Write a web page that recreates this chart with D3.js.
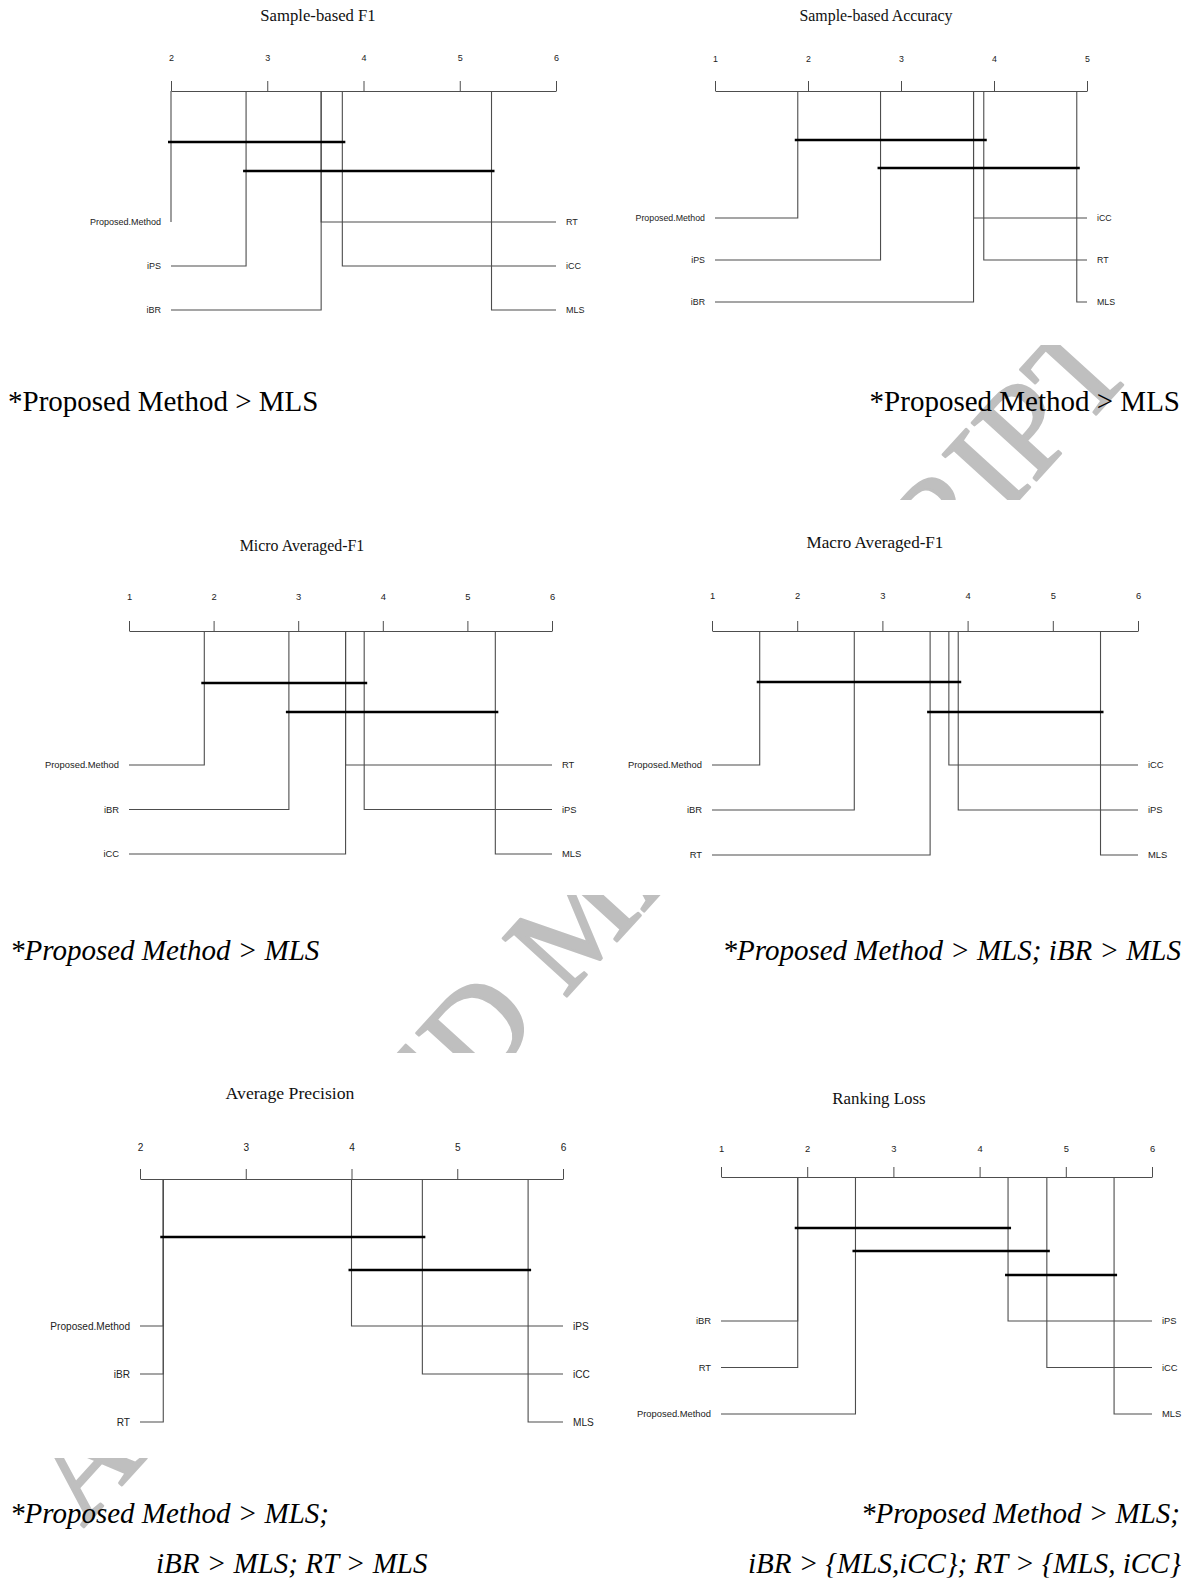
<!DOCTYPE html>
<html>
<head>
<meta charset="utf-8">
<script src="https://cdn.jsdelivr.net/npm/d3@7"></script>
<style>
  body { margin: 0; background: #fff; }
</style>
</head>
<body>
<script>
// ---- data ----
const titles = ["Sample-based F1", "Sample-based Accuracy", "Micro Averaged-F1",
                "Macro Averaged-F1", "Average Precision", "Ranking Loss"];

// methods in display order: first three on the left, last three on the right
const methods = [
  ["Proposed.Method", "iPS", "iBR", "RT", "iCC", "MLS"],
  ["Proposed.Method", "iPS", "iBR", "iCC", "RT", "MLS"],
  ["Proposed.Method", "iBR", "iCC", "RT", "iPS", "MLS"],
  ["Proposed.Method", "iBR", "RT", "iCC", "iPS", "MLS"],
  ["Proposed.Method", "iBR", "RT", "iPS", "iCC", "MLS"],
  ["iBR", "RT", "Proposed.Method", "iPS", "iCC", "MLS"]
];

// average ranks
const ranks = [
  [2.00, 2.78, 3.56, 3.56, 3.78, 5.33],
  [1.89, 2.78, 3.78, 3.78, 3.89, 4.89],
  [1.89, 2.89, 3.56, 3.56, 3.78, 5.33],
  [1.56, 2.67, 3.56, 3.78, 3.89, 5.56],
  [2.22, 2.22, 2.22, 4.00, 4.67, 5.67],
  [1.89, 1.89, 2.56, 4.33, 4.78, 5.56]
];

const rankDomains = [[2, 6], [1, 5], [1, 6], [1, 6], [2, 6], [1, 6]];

// groups not significantly different (thick bars)
const cliques = [
  [[2.00, 3.78], [2.78, 5.33]],
  [[1.89, 3.89], [2.78, 4.89]],
  [[1.89, 3.78], [2.89, 5.33]],
  [[1.56, 3.89], [3.56, 5.56]],
  [[2.22, 4.67], [4.00, 5.67]],
  [[1.89, 4.33], [2.56, 4.78], [4.33, 5.56]]
];

const notes = [
  ["*Proposed Method > MLS"],
  ["*Proposed Method > MLS"],
  ["*Proposed Method > MLS"],
  ["*Proposed Method > MLS; iBR > MLS"],
  ["*Proposed Method > MLS;", "iBR > MLS; RT > MLS"],
  ["*Proposed Method > MLS;", "iBR > {MLS,iCC}; RT > {MLS, iCC}"]
];

const watermark = "ACCEPTED MANUSCRIPT";

// ---- layout ----
const W = 1188, H = 1580;

const panels = [
  {x0: 171, x1: 556, axisY: 91, tickY: 58, titleX: 318, titleY: 15, titleSize: 16.7, fs: 9.0, bars: [142, 171], rows: [222, 310]},
  {x0: 715, x1: 1087, axisY: 91, tickY: 59, titleX: 876, titleY: 15, titleSize: 15.9, fs: 8.8, bars: [140, 168], rows: [218, 302]},
  {x0: 129, x1: 552, axisY: 631, tickY: 597, titleX: 302, titleY: 545, titleSize: 15.9, fs: 9.4, bars: [683, 712], rows: [765, 854]},
  {x0: 712, x1: 1138, axisY: 631, tickY: 596, titleX: 875, titleY: 542, titleSize: 17.1, fs: 9.4, bars: [682, 712], rows: [765, 855]},
  {x0: 140, x1: 563, axisY: 1179, tickY: 1147, titleX: 290, titleY: 1093, titleSize: 17.7, fs: 10.1, bars: [1237, 1270], rows: [1326, 1422]},
  {x0: 721, x1: 1152, axisY: 1177, tickY: 1149, titleX: 879, titleY: 1098, titleSize: 16.9, fs: 9.4, bars: [1228, 1251, 1275], rows: [1321, 1414]}
];

const noteLayout = [
  {x: [8], y: [411], anchor: "start", italic: false},
  {x: [1180], y: [411], anchor: "end", italic: false},
  {x: [10], y: [960], anchor: "start", italic: true},
  {x: [1181], y: [960], anchor: "end", italic: true},
  {x: [10, 156], y: [1523, 1573], anchor: "start", italic: true},
  {x: [1180, 1181], y: [1523, 1573], anchor: "end", italic: true}
];

// white areas of the pasted figures (they hide the watermark)
const figureRows = [[0, 345], [500, 895], [1053, 1458]];

const lineColor = "#4d4d4d";
const sans = "'Liberation Sans', Arial, sans-serif";
const serif = "'Liberation Serif', 'Times New Roman', serif";

const svg = d3.select("body")
  .append("svg")
  .attr("width", W)
  .attr("height", H)
  .attr("viewBox", [0, 0, W, H]);

// watermark behind everything
svg.append("text")
  .attr("transform", "translate(83,1528) rotate(-47.7)")
  .attr("font-family", serif)
  .attr("font-size", 132)
  .attr("fill", "#bfbfbf")
  .attr("stroke", "#bfbfbf")
  .attr("stroke-width", 2.5)
  .attr("stroke-linejoin", "round")
  .text(watermark);

svg.selectAll("rect.fig")
  .data(figureRows)
  .enter()
  .append("rect")
  .attr("class", "fig")
  .attr("x", 0)
  .attr("y", d => d[0])
  .attr("width", W)
  .attr("height", d => d[1] - d[0])
  .attr("fill", "#fff");

function drawPanel(i) {
  const p = panels[i];
  const g = svg.append("g");
  const x = d3.scaleLinear().domain(rankDomains[i]).range([p.x0, p.x1]);
  const y = d3.scaleLinear().domain([0, 2]).range(p.rows);

  // title
  g.append("text")
    .attr("x", p.titleX)
    .attr("y", p.titleY)
    .attr("dy", "0.35em")
    .attr("text-anchor", "middle")
    .attr("font-family", serif)
    .attr("font-size", p.titleSize)
    .attr("fill", "#111")
    .text(titles[i]);

  // rank axis on top
  const pad = p.axisY - 10 - (p.tickY + 0.35 * p.fs);
  const axis = d3.axisTop(x)
    .tickValues(d3.range(rankDomains[i][0], rankDomains[i][1] + 1))
    .tickFormat(d3.format("d"))
    .tickSize(10)
    .tickSizeOuter(0)
    .tickPadding(pad);
  const ax = g.append("g")
    .attr("transform", `translate(0,${p.axisY})`)
    .call(axis);
  ax.select(".domain").attr("stroke", lineColor);
  ax.selectAll(".tick line").attr("stroke", lineColor);
  ax.selectAll(".tick text")
    .attr("font-family", sans)
    .attr("font-size", p.fs)
    .attr("fill", "#222");

  const rows = methods[i].map((m, j) => ({
    name: m,
    rank: ranks[i][j],
    left: j < 3,
    row: j % 3
  }));

  // connector lines
  g.selectAll("path.conn")
    .data(rows)
    .enter()
    .append("path")
    .attr("class", "conn")
    .attr("fill", "none")
    .attr("stroke", lineColor)
    .attr("stroke-width", 1.1)
    .attr("d", d => {
      const xr = x(d.rank), yr = y(d.row);
      const xe = d.left ? p.x0 : p.x1;
      return `M${xr},${p.axisY}V${yr}H${xe}`;
    });

  // method labels
  g.selectAll("text.lab")
    .data(rows)
    .enter()
    .append("text")
    .attr("class", "lab")
    .attr("x", d => d.left ? p.x0 - 10 : p.x1 + 10)
    .attr("y", d => y(d.row))
    .attr("dy", "0.35em")
    .attr("text-anchor", d => d.left ? "end" : "start")
    .attr("font-family", sans)
    .attr("font-size", p.fs)
    .attr("fill", "#222")
    .text(d => d.name);

  // clique bars
  g.selectAll("line.bar")
    .data(cliques[i])
    .enter()
    .append("line")
    .attr("class", "bar")
    .attr("x1", d => x(d[0]) - 3)
    .attr("x2", d => x(d[1]) + 3)
    .attr("y1", (d, k) => p.bars[k])
    .attr("y2", (d, k) => p.bars[k])
    .attr("stroke", "#000")
    .attr("stroke-width", 2.6);
}

panels.forEach((p, i) => drawPanel(i));

// significance notes under each diagram
notes.forEach((lines, i) => {
  const L = noteLayout[i];
  svg.selectAll(null)
    .data(lines)
    .enter()
    .append("text")
    .attr("x", (d, k) => L.x[k])
    .attr("y", (d, k) => L.y[k])
    .attr("text-anchor", L.anchor)
    .attr("font-family", serif)
    .attr("font-size", 29)
    .attr("font-style", L.italic ? "italic" : "normal")
    .attr("fill", "#000")
    .text(d => d);
});
</script>
</body>
</html>
